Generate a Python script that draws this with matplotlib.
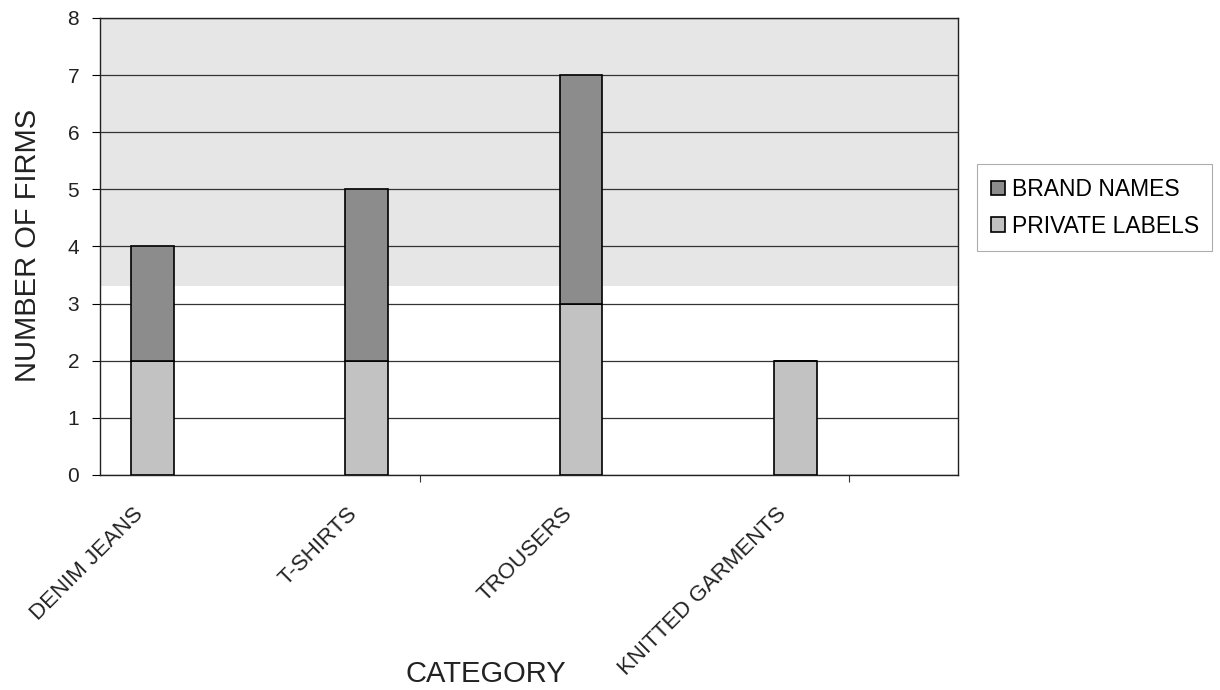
import matplotlib
matplotlib.use('Agg')
import matplotlib.pyplot as plt
import numpy as np
from matplotlib.transforms import ScaledTranslation

plt.rcParams['font.family'] = ['Liberation Sans', 'DejaVu Sans']

# data
categories = ['DENIM JEANS', 'T-SHIRTS', 'TROUSERS', 'KNITTED GARMENTS']
private_labels = [2, 2, 3, 2]
brand_names = [2, 3, 4, 0]

x = np.arange(len(categories))
col_brand = '#8c8c8c'
col_private = '#c2c2c2'

fig = plt.figure(figsize=(12.2, 6.9), dpi=100)
ax = fig.add_axes([0.082, 0.3116, 0.703, 0.6624])

# faint scan shading in the upper part of the plot area
ax.axhspan(3.3, 8, color='#e6e6e6', zorder=0, lw=0)

ax.bar(x, private_labels, width=0.2, color=col_private, edgecolor='black',
       linewidth=1.2, label='PRIVATE LABELS', zorder=3)
ax.bar(x, brand_names, width=0.2, bottom=private_labels, color=col_brand,
       edgecolor='black', linewidth=1.2, label='BRAND NAMES', zorder=3)

ax.set_ylim(0, 8)
ax.set_xlim(-0.243, 3.757)
ax.set_yticks(range(0, 9))
ax.yaxis.grid(True, color='#333333', linewidth=0.9, zorder=1)
ax.set_axisbelow(True)

ax.set_xticks(x)
ax.set_xticklabels(categories, rotation=45, ha='right', va='center',
                   rotation_mode='anchor', fontsize=16, color='#222222')
ax.tick_params(axis='x', length=0, pad=0)
shift = ScaledTranslation(-12 / 100, -36 / 100, fig.dpi_scale_trans)
for lab in ax.get_xticklabels():
    lab.set_transform(lab.get_transform() + shift)
ax.set_xticks([1.25, 3.25], minor=True)
ax.tick_params(axis='x', which='minor', length=5, width=0.8, color='#333333')

ax.tick_params(axis='y', length=6, width=0.8, pad=9, labelsize=15,
               labelcolor='#222222')

for s in ax.spines.values():
    s.set_linewidth(1.0)
    s.set_color('#222222')

ax.set_ylabel('NUMBER OF FIRMS', fontsize=21, color='#222222')
ax.yaxis.set_label_coords(-0.068, 0.503)
ax.set_xlabel('CATEGORY', fontsize=21, color='#222222')
ax.xaxis.set_label_coords(0.45, -0.405)

h, l = ax.get_legend_handles_labels()
leg = fig.legend(h[::-1], l[::-1], loc='upper left',
                 bbox_to_anchor=(0.801, 0.762), fontsize=16.5, frameon=True,
                 fancybox=False, edgecolor='#999999', handlelength=0.6,
                 handleheight=0.6, handletextpad=0.3, borderpad=0.6,
                 labelspacing=0.6, borderaxespad=0)
leg.get_frame().set_linewidth(0.8)

fig.savefig('out.png', dpi=100, facecolor='white')
